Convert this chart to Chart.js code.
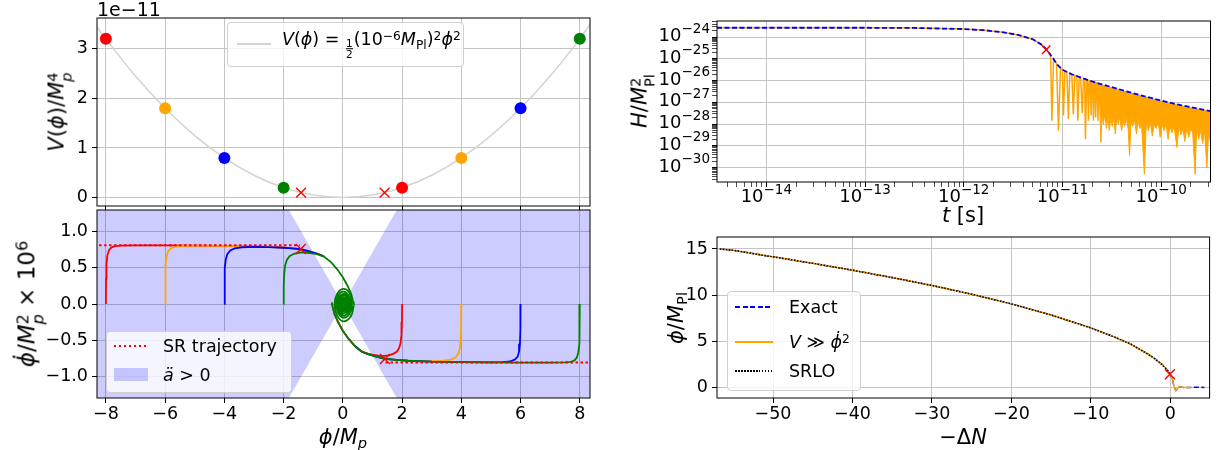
<!DOCTYPE html>
<html>
<head>
<meta charset="utf-8">
<script src="https://cdn.jsdelivr.net/npm/chart.js@4.4.1/dist/chart.umd.min.js"></script>
<style>
  body { margin: 0; background: #fff; width: 1218px; height: 450px; overflow: hidden; position: relative; font-family: 'DejaVu Sans', sans-serif; }
  canvas { position: absolute; left: 0; top: 0; }
  .lab { position: absolute; white-space: nowrap; font-size: 21px; line-height: 24px; transform: translate(-50%, -50%); }
  .rot { transform: translate(-50%, -50%) rotate(-90deg); }
  sup { font-size: 70%; vertical-align: 0.45em; line-height: 0; }
  sub { font-size: 70%; vertical-align: -0.3em; line-height: 0; }
  .ss { display: inline-flex; flex-direction: column; font-size: 70%; line-height: 0.95; vertical-align: 0.4em; }
  .frac { display: inline-flex; flex-direction: column; font-size: 60%; line-height: 1; vertical-align: -0.15em; text-align: center; margin: 0 1px; }
  .frac span:first-child { border-bottom: 1px solid #000; }
  .leg { position: absolute; background: rgba(255,255,255,0.8); border: 1px solid #d0d0d0; border-radius: 4px; }
  .smp { position: absolute; height: 2px; }
  .txt { position: absolute; white-space: nowrap; font-size: 17.5px; line-height: 22px; transform: translateY(-50%); }
</style>
</head>
<body>
<canvas id="cPot" width="1218" height="450"></canvas>
<canvas id="cPhase" width="1218" height="450"></canvas>
<canvas id="cHubble" width="1218" height="450"></canvas>
<canvas id="cField" width="1218" height="450"></canvas>

<!-- axis texts -->
<div class="lab" style="left:97px; top:-3px; transform:none; font-size:19px;">1e−11</div>
<div class="lab rot" style="left:59px; top:112px;"><i>V</i>(<i>ϕ</i>)/<i>M</i><span class="ss"><span>4</span><span><i>p</i></span></span></div>
<div class="lab rot" style="left:30px; top:304px; font-size:23px;"><i>ϕ̇</i>/<i>M</i><span class="ss"><span>2</span><span><i>p</i></span></span> × 10<sup>6</sup></div>
<div class="lab" style="left:343px; top:437px;"><i>ϕ</i>/<i>M</i><sub><i>p</i></sub></div>
<div class="lab rot" style="left:642px; top:101px;"><i>H</i>/<i>M</i><span class="ss"><span>2</span><span>Pl</span></span></div>
<div class="lab" style="left:963px; top:215px;"><i>t</i> [s]</div>
<div class="lab rot" style="left:676px; top:318px;"><i>ϕ</i>/<i>M</i><sub>Pl</sub></div>
<div class="lab" style="left:963px; top:437px;">−Δ<i>N</i></div>

<!-- legend: potential -->
<div class="leg" style="left:227px; top:22px; width:235px; height:43px;"></div>
<div class="smp" style="left:237px; top:43px; width:34px; background:#d3d3d3;"></div>
<div class="txt" style="left:282px; top:44px;"><i>V</i>(<i>ϕ</i>) = <span class="frac"><span>1</span><span>2</span></span>(10<sup>−6</sup><i>M</i><sub>Pl</sub>)<sup>2</sup><i>ϕ</i><sup>2</sup></div>

<!-- legend: phase plane -->
<div class="leg" style="left:106px; top:331px; width:184px; height:60px;"></div>
<div class="smp" style="left:114px; top:345px; width:34px; background:repeating-linear-gradient(90deg, #ff0000 0 2.5px, transparent 2.5px 5px);"></div>
<div class="txt" style="left:163px; top:346px;">SR trajectory</div>
<div class="smp" style="left:114px; top:368px; width:34px; height:13px; background:rgba(0,0,255,0.2);"></div>
<div class="txt" style="left:163px; top:375px;"><i>ä</i> &gt; 0</div>

<!-- legend: field -->
<div class="leg" style="left:727px; top:291px; width:132px; height:98px;"></div>
<div class="smp" style="left:735px; top:306px; width:38px; background:repeating-linear-gradient(90deg, #0000ff 0 5px, transparent 5px 7.5px);"></div>
<div class="txt" style="left:789px; top:307px;">Exact</div>
<div class="smp" style="left:735px; top:341px; width:38px; background:#ffa500;"></div>
<div class="txt" style="left:789px; top:342px;"><i>V</i> ≫ <i>ϕ̇</i><sup>2</sup></div>
<div class="smp" style="left:735px; top:370px; width:38px; background:repeating-linear-gradient(90deg, #000 0 1.5px, transparent 1.5px 3px);"></div>
<div class="txt" style="left:789px; top:371px;">SRLO</div>

<script>
/* ════════════════════════════════════════════
   DATA
════════════════════════════════════════════ */
// potential panel (V in units of 1e-11)
const potPhi = [-8.3, -8, -7, -6, -5, -4, -3, -2, -1, 0, 1, 2, 3, 4, 5, 6, 7, 8, 8.35];
const potV = [3.44, 3.2, 2.45, 1.8, 1.25, 0.8, 0.45, 0.2, 0.05, 0, 0.05, 0.2, 0.45, 0.8, 1.25, 1.8, 2.45, 3.2, 3.49];
const startPhi = [-8, -6, -4, -2, 2, 4, 6, 8];
const startV = [3.2, 1.8, 0.8, 0.2, 0.2, 0.8, 1.8, 3.2];
const startColors = ["#ff0000", "#ffa500", "#0000ff", "#008000", "#ff0000", "#ffa500", "#0000ff", "#008000"];
const endPhi = [-1.41, 1.41];
const endV = [0.1, 0.1];

// phase plane (phi, phidot x 1e6)
const trajRedL = [[-8,0],[-7.995,0.35],[-7.98,0.55],[-7.95,0.67],[-7.9,0.74],[-7.82,0.78],[-7.7,0.8],[-7.5,0.808],[-7,0.81],[-6,0.81],[-5,0.808],[-4,0.805],[-3,0.798],[-2.2,0.785],[-1.8,0.774],[-1.42,0.757],[-1.1,0.725],[-0.85,0.695],[-0.64,0.66]];
const trajOrangeL = [[-6,0],[-5.995,0.35],[-5.98,0.55],[-5.95,0.66],[-5.9,0.73],[-5.8,0.77],[-5.65,0.795],[-5.4,0.805],[-5,0.807],[-4,0.805],[-3,0.798],[-2.2,0.785],[-1.8,0.774],[-1.42,0.757],[-1.1,0.725],[-0.85,0.695],[-0.64,0.66]];
const trajBlueL = [[-4,0],[-3.995,0.3],[-3.98,0.5],[-3.95,0.62],[-3.9,0.69],[-3.8,0.74],[-3.65,0.77],[-3.4,0.785],[-3,0.79],[-2.5,0.787],[-2,0.778],[-1.7,0.768],[-1.42,0.757],[-1.1,0.725],[-0.85,0.695],[-0.64,0.66]];
const trajGreenL = [[-2,0],[-1.995,0.25],[-1.98,0.42],[-1.95,0.53],[-1.89,0.61],[-1.8,0.66],[-1.65,0.695],[-1.45,0.712],[-1.25,0.712],[-1.05,0.7],[-0.85,0.685],[-0.64,0.655],[-0.4,0.58],[-0.19,0.48],[0,0.37],[0.15,0.26],[0.28,0.14],[0.35,0.03],[0.37,-0.02]];
const trajRedR = [[2,0],[1.995,-0.25],[1.98,-0.42],[1.95,-0.54],[1.9,-0.61],[1.82,-0.66],[1.7,-0.69],[1.55,-0.71],[1.4,-0.718],[1.2,-0.715],[1.0,-0.7],[0.85,-0.685],[0.64,-0.655],[0.4,-0.58],[0.19,-0.48],[0,-0.37],[-0.15,-0.26],[-0.28,-0.14],[-0.35,-0.03],[-0.37,0.02]];
const trajOrangeR = [[4,0],[3.995,-0.3],[3.98,-0.5],[3.95,-0.62],[3.9,-0.69],[3.8,-0.74],[3.65,-0.77],[3.4,-0.785],[3,-0.79],[2.5,-0.787],[2,-0.778],[1.7,-0.768],[1.42,-0.757],[1.1,-0.725],[0.85,-0.695],[0.64,-0.66],[0.4,-0.58]];
const trajBlueR = [[6,0],[5.995,-0.35],[5.98,-0.55],[5.95,-0.66],[5.9,-0.73],[5.8,-0.77],[5.65,-0.795],[5.4,-0.805],[5,-0.807],[4,-0.805],[3,-0.798],[2.2,-0.785],[1.8,-0.774],[1.42,-0.757],[1.1,-0.725],[0.85,-0.695],[0.64,-0.66],[0.4,-0.58]];
const trajGreenR = [[8,0],[7.995,-0.35],[7.98,-0.55],[7.95,-0.67],[7.9,-0.74],[7.82,-0.78],[7.7,-0.8],[7.5,-0.808],[7,-0.81],[6,-0.81],[5,-0.808],[4,-0.805],[3,-0.798],[2.2,-0.785],[1.8,-0.774],[1.42,-0.757],[1.1,-0.725],[0.85,-0.695],[0.64,-0.66],[0.4,-0.58],[0.19,-0.48],[0,-0.37],[-0.15,-0.26],[-0.28,-0.14],[-0.35,-0.03],[-0.37,0.02]];
const spiral = [[0.37,-0.02],[0.27,-0.17],[0.03,-0.24],[-0.19,-0.16],[-0.28,0],[-0.18,0.15],[0.03,0.21],[0.23,0.15],[0.31,0],
  [0.22,-0.14],[0.03,-0.19],[-0.15,-0.13],[-0.22,0],[-0.14,0.13],[0.03,0.17],[0.19,0.12],[0.26,0],
  [0.19,-0.11],[0.03,-0.16],[-0.12,-0.11],[-0.18,0],[-0.11,0.1],[0.03,0.14],[0.16,0.1],[0.22,0],
  [0.16,-0.09],[0.03,-0.13],[-0.09,-0.09],[-0.14,0],[-0.09,0.08],[0.03,0.12],[0.14,0.08],[0.18,0],
  [0.13,-0.07],[0.03,-0.1],[-0.07,-0.07],[-0.1,0],[-0.06,0.07],[0.03,0.09],[0.12,0.06],[0.15,0],
  [0.11,-0.06],[0.03,-0.08],[-0.05,-0.055],[-0.08,0],[-0.04,0.05],[0.03,0.07],[0.1,0.05],[0.12,0],
  [0.09,-0.04],[0.03,-0.06],[-0.03,-0.04],[-0.05,0],[-0.02,0.04],[0.03,0.05],[0.08,0.03],[0.1,0],
  [0.07,-0.03],[0.03,-0.04],[-0.01,-0.03],[-0.02,0],[0,0.025],[0.03,0.03],[0.06,0.02],[0.07,0],
  [0.05,-0.01],[0.03,-0.02],[0.01,0],[0.03,0.01],[0.03,0]];
const srLeft = [[-8.4,0.813],[-1.45,0.813]];
const srRight = [[1.44,-0.81],[8.4,-0.81]];
const endPoints = [[-1.42,0.76],[1.42,-0.76]];
const accelUpper = [[-8.4,1.3],[-1.82,1.3],[0,0],[1.82,1.3],[8.4,1.3]];
const accelLower = [[-8.4,-1.3],[-1.82,-1.3],[0,0],[1.82,-1.3],[8.4,-1.3]];

// Hubble rate (log10 t [s], log10 H)
const hExactLogT = [-14.5, -13.0, -12.5, -12.0, -11.8, -11.6, -11.45, -11.3, -11.2, -11.16, -11.1, -11.05, -11.0, -10.9, -10.8, -10.7, -10.6, -10.5, -10.3, -10.0, -9.8, -9.5];
const hExactLogH = [-23.57, -23.57, -23.58, -23.63, -23.68, -23.78, -23.9, -24.1, -24.38, -24.58, -24.95, -25.28, -25.5, -25.72, -25.88, -26.04, -26.17, -26.3, -26.56, -26.92, -27.13, -27.4];
const hOsc = [[-14.5,-23.57],[-13.0,-23.57],[-12.5,-23.58],[-12.0,-23.63],[-11.8,-23.68],[-11.6,-23.78],[-11.45,-23.9],[-11.3,-24.1],[-11.2,-24.38],[-11.16,-24.58],
  [-11.12,-24.83],[-11.107,-27.84],[-11.09,-25.0],[-11.06,-25.2],[-11.04,-28.3],[-11.02,-25.4],[-11.0,-25.5],[-10.99,-27.6],[-10.975,-25.55],
  [-10.955,-25.6],[-10.94,-27.76],[-10.925,-25.66],[-10.905,-25.71],[-10.89,-27.56],[-10.875,-25.76],[-10.855,-25.79],[-10.844,-27.84],[-10.83,-25.83],
  [-10.815,-25.86],[-10.80,-27.5],[-10.787,-25.9],[-10.775,-25.92],[-10.767,-28.68],[-10.755,-25.95],[-10.745,-25.97],[-10.737,-27.84],[-10.727,-26.0],
  [-10.717,-26.01],[-10.71,-27.6],[-10.70,-26.04],[-10.692,-26.05],[-10.686,-27.84],[-10.678,-26.07],[-10.67,-26.08],[-10.664,-27.7],[-10.656,-26.1],
  [-10.648,-26.11],[-10.64,-27.84],[-10.632,-26.13]];
const hBand = [[-10.63,-26.13],[-10.61,-28.84],[-10.60,-27.6],[-10.585,-28.0],[-10.57,-27.5],[-10.555,-28.2],[-10.54,-27.6],[-10.525,-28.3],[-10.51,-27.7],
  [-10.495,-28.1],[-10.48,-27.6],[-10.465,-28.45],[-10.45,-27.7],[-10.435,-28.0],[-10.42,-27.7],[-10.40,-28.3],[-10.385,-27.8],[-10.37,-28.1],[-10.355,-27.7],
  [-10.335,-28.2],[-10.32,-29.45],[-10.305,-27.8],[-10.29,-28.1],[-10.27,-27.8],[-10.25,-28.45],[-10.235,-27.8],[-10.215,-28.2],[-10.2,-27.9],[-10.17,-30.3],
  [-10.15,-27.9],[-10.13,-28.3],[-10.11,-27.9],[-10.09,-28.55],[-10.07,-28.0],[-10.05,-28.2],[-10.03,-27.9],[-10.01,-28.6],[-9.99,-28.0],[-9.97,-28.3],
  [-9.95,-28.0],[-9.93,-28.7],[-9.91,-28.1],[-9.89,-28.4],[-9.87,-28.1],[-9.84,-29.07],[-9.82,-28.1],[-9.80,-28.5],[-9.78,-28.2],[-9.76,-28.8],[-9.74,-28.2],
  [-9.72,-28.6],[-9.70,-28.2],[-9.68,-28.4],[-9.656,-30.3],[-9.64,-28.2],[-9.62,-28.7],[-9.60,-28.3],[-9.58,-28.9],[-9.56,-28.3],[-9.537,-30.0],[-9.52,-28.4],[-9.5,-28.8]];
const hEnd = [[-11.165, -24.58]];

// field vs e-folds
const nMain = [-56.7, -55, -50, -45, -40, -35, -30, -25, -20, -15, -10, -7, -5, -3, -2, -1, -0.5, 0];
const phiMain = [15.0, 14.85, 14.15, 13.45, 12.7, 11.9, 11.05, 10.1, 9.05, 7.85, 6.45, 5.45, 4.7, 3.7, 3.15, 2.45, 2.0, 1.45];
const nExactTail = [0.3, 0.5, 0.7, 0.9, 1.1, 1.4, 2.0, 3.0, 4.3];
const phiExactTail = [0.75, 0.0, -0.33, -0.15, 0.05, 0.02, -0.02, 0.01, 0.0];
const nApproxTail = [0.3, 0.5, 0.68, 0.85, 1.05, 1.35, 1.8, 2.64];
const phiApproxTail = [0.78, 0.05, -0.35, -0.18, 0.04, 0.03, -0.01, 0.0];
const fieldEnd = [[-0.05, 1.43]];

// ticks
const phiTicks = [-8, -6, -4, -2, 0, 2, 4, 6, 8];
const potTicks = [0, 1, 2, 3];
const phaseTicks = [-1, -0.5, 0, 0.5, 1];
const nTicks = [-50, -40, -30, -20, -10, 0];
const fieldTicks = [0, 5, 10, 15];

/* ════════════════════════════════════════════
   HELPERS
════════════════════════════════════════════ */
const FONT = "'DejaVu Sans'";
const GRID = "#c4c4c4";
const minus = (s) => s.replace("-", "−");
const xy = (pts) => pts.map(([x, y]) => ({ x, y }));
const xyArr = (xs, ys) => xs.map((x, i) => ({ x, y: ys[i] }));
const xyLog = (pts) => pts.map(([x, y]) => ({ x: 10 ** x, y: 10 ** y }));

function logTicks(lo, hi) {
  const out = [];
  for (let k = Math.floor(lo); k <= Math.ceil(hi); k++) {
    for (let m = 1; m <= 9; m++) {
      const e = k + Math.log10(m);
      if (e >= lo && e <= hi) out.push({ value: m * 10 ** k, major: m === 1 });
    }
  }
  return out;
}

function axis(o) {
  return {
    type: o.type || "linear",
    min: o.min,
    max: o.max,
    bounds: "data",
    afterBuildTicks: (s) => {
      s.ticks = o.ticks.map((t) => (typeof t === "object" ? t : { value: t, major: true }));
    },
    afterFit: (s) => {
      if (s.isHorizontal()) s.height = o.size;
      else s.width = o.size;
    },
    grid: {
      color: (c) => (c.tick && c.tick.major === false ? "rgba(0,0,0,0)" : GRID),
      lineWidth: 1,
      tickLength: 5,
      tickColor: "#000",
      tickWidth: (c) => (c.tick && c.tick.major === false ? 0.7 : 1),
    },
    border: { display: false },
    ticks: {
      display: o.labels !== false,
      autoSkip: false,
      maxRotation: 0,
      minRotation: 0,
      padding: o.pad,
      color: "#000",
      font: { family: FONT, size: 17.5 },
      callback: o.fmt,
    },
  };
}

const frame = {
  id: "frame",
  afterDatasetsDraw(chart) {
    const { ctx, chartArea: a } = chart;
    ctx.save();
    ctx.strokeStyle = "#000";
    ctx.lineWidth = 1;
    ctx.strokeRect(a.left, a.top, a.right - a.left, a.bottom - a.top);
    ctx.restore();
  },
};

// 10^k labels with a real raised exponent (log axes only)
const powerLabels = {
  id: "powerLabels",
  afterDraw(chart) {
    const ctx = chart.ctx;
    ctx.save();
    ctx.fillStyle = "#000";
    ctx.textAlign = "left";
    ctx.textBaseline = "alphabetic";
    ["x", "y"].forEach((id) => {
      const s = chart.scales[id];
      if (s.type !== "logarithmic") return;
      s.ticks.forEach((t) => {
        if (!t.major) return;
        const exp = minus(String(Math.round(Math.log10(t.value))));
        const p = s.getPixelForValue(t.value);
        ctx.font = `18px ${FONT}`;
        const wb = ctx.measureText("10").width;
        ctx.font = `13.5px ${FONT}`;
        const we = ctx.measureText(exp).width;
        let x0, yb;
        if (id === "x") { x0 = p - (wb + we) / 2; yb = s.top + 20; }
        else { x0 = s.right - 7 - wb - we; yb = p + 4; }
        ctx.font = `18px ${FONT}`;
        ctx.fillText("10", x0, yb);
        ctx.font = `13.5px ${FONT}`;
        ctx.fillText(exp, x0 + wb, yb - 8.5);
      });
    });
    ctx.restore();
  },
};

const line = (data, color, extra) =>
  Object.assign({ data, borderColor: color, borderWidth: 1.8, pointRadius: 0, tension: 0, fill: false }, extra || {});
const cross = (data, r) => ({
  data, showLine: false, pointStyle: "crossRot", pointRadius: r, pointBorderColor: "#ff0000",
  pointBorderWidth: 1.4, pointBackgroundColor: "#ff0000", borderColor: "#ff0000",
});

function makeChart(id, datasets, scales, pad) {
  return new Chart(document.getElementById(id), {
    type: "line",
    data: { datasets },
    options: {
      responsive: false,
      devicePixelRatio: 1,
      animation: false,
      events: [],
      layout: { padding: pad },
      plugins: { legend: { display: false }, tooltip: { enabled: false } },
      scales,
    },
    plugins: [frame, powerLabels],
  });
}

/* ════════════════════════════════════════════
   PANEL 1: POTENTIAL
════════════════════════════════════════════ */
makeChart("cPot", [
  cross(xyArr(endPhi, endV), 7),
  { data: xyArr(startPhi, startV), showLine: false, pointRadius: 6, pointBorderWidth: 0,
    pointBackgroundColor: startColors, borderColor: "rgba(0,0,0,0)" },
  line(xyArr(potPhi, potV), "#d3d3d3", { borderWidth: 1.5, cubicInterpolationMode: "monotone" }),
], {
  x: axis({ min: -8.3, max: 8.345, ticks: phiTicks, size: 5, labels: false }),
  y: axis({ min: -0.17, max: 3.62, ticks: potTicks, size: 97, pad: 4, fmt: (v) => String(v) }),
}, { left: 0, right: 628, top: 18, bottom: 239 });

/* ════════════════════════════════════════════
   PANEL 2: PHASE PLANE
════════════════════════════════════════════ */
makeChart("cPhase", [
  line(xy(srLeft), "#ff0000", { borderWidth: 2, borderDash: [2.5, 2.5] }),
  line(xy(srRight), "#ff0000", { borderWidth: 2, borderDash: [2.5, 2.5] }),
  cross(xy(endPoints), 7),
  line(xy(spiral), "#008000", { tension: 0.4 }),
  line(xy(trajGreenL), "#008000"),
  line(xy(trajGreenR), "#008000"),
  line(xy(trajBlueL), "#0000ff"),
  line(xy(trajBlueR), "#0000ff"),
  line(xy(trajOrangeL), "#ffa500"),
  line(xy(trajOrangeR), "#ffa500"),
  line(xy(trajRedL), "#ff0000"),
  line(xy(trajRedR), "#ff0000"),
  line(xy(accelUpper), "rgba(0,0,0,0)", { borderWidth: 0, fill: "+1", backgroundColor: "rgba(0,0,255,0.2)" }),
  line(xy(accelLower), "rgba(0,0,0,0)", { borderWidth: 0 }),
], {
  x: axis({ min: -8.3, max: 8.345, ticks: phiTicks, size: 40, pad: 1, fmt: (v) => minus(String(v)) }),
  y: axis({ min: -1.3, max: 1.3, ticks: phaseTicks, size: 97, pad: 4, fmt: (v) => minus(v.toFixed(1)) }),
}, { left: 0, right: 628, top: 210, bottom: 12 });

/* ════════════════════════════════════════════
   PANEL 3: HUBBLE RATE
════════════════════════════════════════════ */
makeChart("cHubble", [
  cross(xyLog(hEnd), 6),
  line(xyArr(hExactLogT, hExactLogH).map((p) => ({ x: 10 ** p.x, y: 10 ** p.y })), "#0000ff", { borderDash: [5, 2.5] }),
  line(xyLog(hBand), "#ffa500", { borderWidth: 1, fill: 1, backgroundColor: "#ffa500" }),
  line(xyLog(hOsc), "#ffa500", { borderWidth: 1.5 }),
], {
  x: axis({ type: "logarithmic", min: 10 ** -14.5, max: 10 ** -9.5, ticks: logTicks(-14.5, -9.5), size: 30, labels: false }),
  y: axis({ type: "logarithmic", min: 10 ** -30.66, max: 10 ** -23.26, ticks: logTicks(-30.66, -23.26), size: 717, labels: false }),
}, { left: 0, right: 7.5, top: 21, bottom: 238 });

/* ════════════════════════════════════════════
   PANEL 4: FIELD VS E-FOLDS
════════════════════════════════════════════ */
makeChart("cField", [
  cross(xy(fieldEnd), 7),
  line(xyArr(nMain, phiMain), "#000", { borderWidth: 1.5, borderDash: [1.5, 1.5] }),
  line(xyArr(nMain.concat(nApproxTail), phiMain.concat(phiApproxTail)), "#ffa500", { borderWidth: 1.5 }),
  line(xyArr(nMain.concat(nExactTail), phiMain.concat(phiExactTail)), "#0000ff", { borderWidth: 1.5, borderDash: [5, 2.5] }),
], {
  x: axis({ min: -57.05, max: 4.95, ticks: nTicks, size: 40, pad: 1, fmt: (v) => minus(String(v)) }),
  y: axis({ min: -1.15, max: 16.3, ticks: fieldTicks, size: 717, pad: 4, fmt: (v) => String(v) }),
}, { left: 0, right: 8, top: 237, bottom: 12 });
</script>
</body>
</html>
